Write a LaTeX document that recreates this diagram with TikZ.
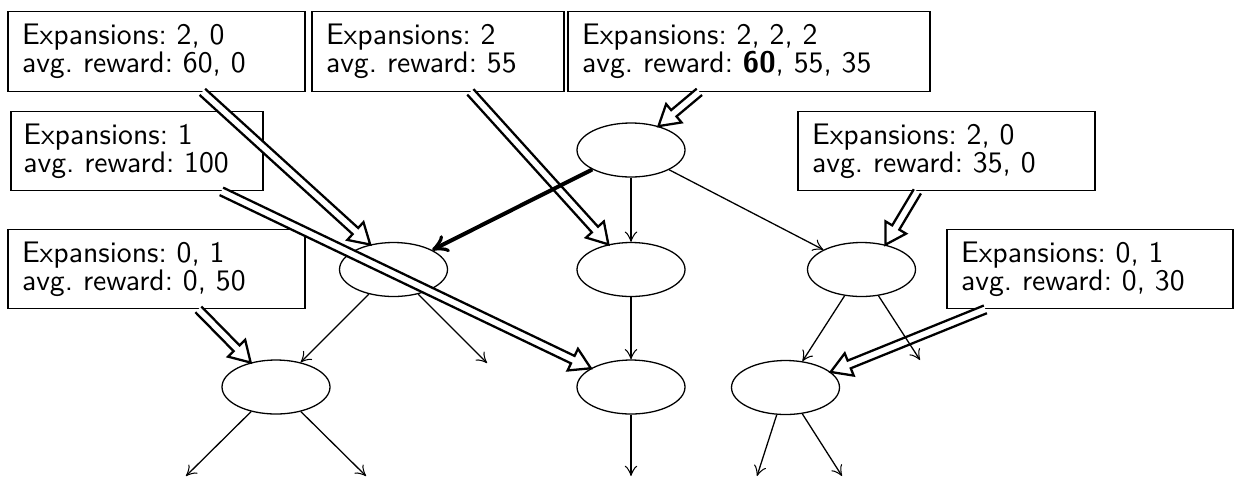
\documentclass[tikz,border=0pt]{standalone}
\usetikzlibrary{calc,arrows.meta,shapes.geometric}
\newcommand\blockarr[3]{%
  \coordinate (#1-b) at ($(#3)!7pt!(#2)$);
  \path[blockarrow] ($(#2)!1.45pt!90:(#3)$) -- ($(#1-b)!1.45pt!90:(#3)$)
    -- ($(#1-b)!4.2pt!90:(#3)$) -- (#3) -- ($(#1-b)!4.2pt!-90:(#3)$)
    -- ($(#1-b)!1.45pt!-90:(#3)$) -- ($(#2)!1.45pt!-90:(#3)$);
}
\tikzset{
  infobox/.style={draw, line width=0.45pt, rectangle, inner xsep=4.9pt, inner ysep=0pt,
    minimum height=27.8pt, align=left,
    font=\sffamily\fontsize{10.4}{9.8}\selectfont\frenchspacing},
  treenode/.style={draw, ellipse, line width=0.45pt, minimum width=37.8pt,
    minimum height=18.9pt, inner sep=0pt},
  edge/.style={line width=0.45pt, -{Classical TikZ Rightarrow[length=3.6pt,width=4.4pt]}},
  bestedge/.style={line width=1.4pt, -{Classical TikZ Rightarrow[length=5.5pt,width=6.5pt]}},
  blockarrow/.style={draw, fill=white, line width=0.8pt, line join=miter, miter limit=10},
}
\begin{document}
\begin{tikzpicture}[x=0.35pt,y=-0.35pt]
\useasboundingbox (0,0) rectangle (1242,477);
% info boxes
\node[infobox, text width=94.15pt] (b1) at (156.5,51.5) {Expansions: 2, 0\\avg. reward: 60, 0};
\node[infobox, text width=78.4pt] (b2) at (438,51.5) {Expansions: 2\\avg. reward: 55};
\node[infobox, text width=116.9pt] (b3) at (749,51.5) {Expansions: 2, 2, 2\\avg. reward: \textbf{60}, 55, 35};
\node[infobox, inner xsep=4.3pt, text width=79.6pt] (b4) at (137,151) {Expansions: 1\\avg. reward: 100};
\node[infobox, text width=94.15pt] (b5) at (946.5,151) {Expansions: 2, 0\\avg. reward: 35, 0};
\node[infobox, text width=94.15pt] (b6) at (156.5,269) {Expansions: 0, 1\\avg. reward: 0, 50};
\node[infobox, text width=90.3pt] (b7) at (1090,269) {Expansions: 0, 1\\avg. reward: 0, 30};
% tree nodes
\node[treenode] (root) at (631,150) {};
\node[treenode] (a) at (393.5,269.5) {};
\node[treenode] (b) at (631,269.5) {};
\node[treenode] (c) at (861.5,269.5) {};
\node[treenode] (d) at (276,387) {};
\node[treenode] (e) at (631,387) {};
\node[treenode] (f) at (785.5,387.5) {};
% tails of block arrows
\coordinate (t1) at ($(b1.south west)+(195,0)$);
\coordinate (t2) at ($(b2.south west)+(159,0)$);
\coordinate (t3) at ($(b3.south west)+(132,0)$);
\coordinate (t4) at ($(b4.south west)+(211,0)$);
\coordinate (t5) at ($(b5.south west)+(120,0)$);
\coordinate (t6) at ($(b6.south west)+(191,0)$);
\coordinate (t7) at ($(b7.south west)+(39,0)$);
% block arrows
\blockarr{A1}{t1}{a.133}
\blockarr{A2}{t2}{b.132}
\blockarr{A3}{t3}{root.41}
\blockarr{A4}{t4}{e.155}
\blockarr{A5}{t5}{c.46}
\blockarr{A6}{t6}{d.136}
\blockarr{A7}{t7}{f.19}
% free ends
\coordinate (ae) at (487,363);
\coordinate (ce) at (920,360);
\coordinate (d1) at (186,476);
\coordinate (d2) at (366,476);
\coordinate (e1) at (631,476);
\coordinate (f1) at (757,476);
\coordinate (f2) at (842,476);
% tree edges
\draw[bestedge] (root) -- (a);
\draw[edge] (root) -- (b);
\draw[edge] (root) -- (c);
\draw[edge] (a) -- (d);
\draw[edge] (a) -- (ae);
\draw[edge] (b) -- (e);
\draw[edge] (c) -- (f);
\draw[edge] (c) -- (ce);
\draw[edge] (d) -- (d1);
\draw[edge] (d) -- (d2);
\draw[edge] (e) -- (e1);
\draw[edge] (f) -- (f1);
\draw[edge] (f) -- (f2);
\end{tikzpicture}
\end{document}
